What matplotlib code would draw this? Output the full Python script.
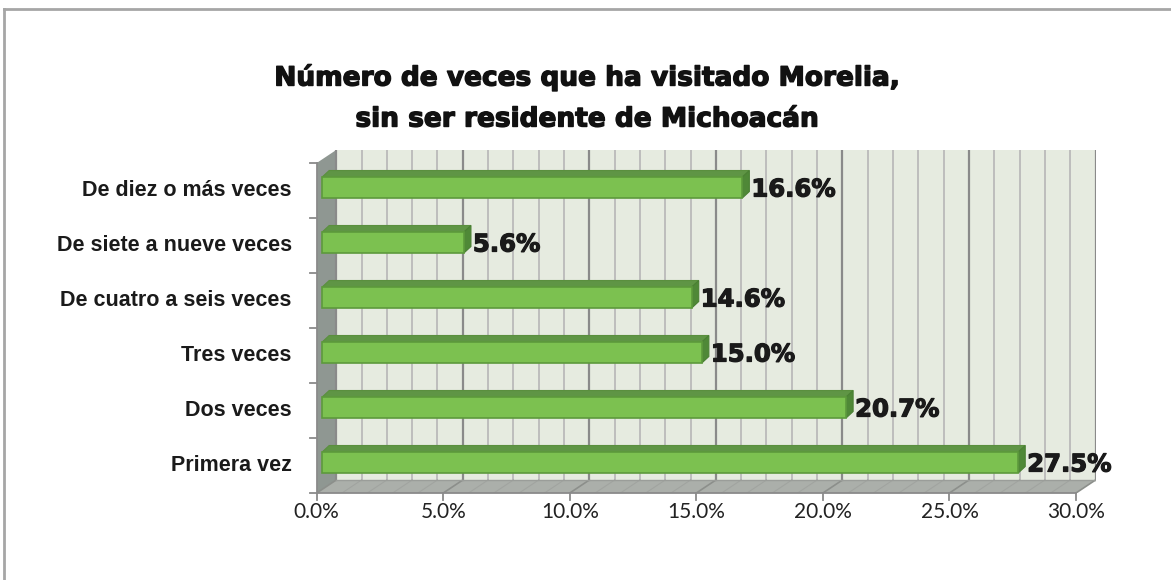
import matplotlib
matplotlib.use("Agg")
import matplotlib.pyplot as plt
import matplotlib.patheffects as pe
from matplotlib.patches import Polygon
from matplotlib.lines import Line2D

# data (bottom to top)
categories = ["Primera vez", "Dos veces", "Tres veces",
              "De cuatro a seis veces", "De siete a nueve veces",
              "De diez o más veces"]
values = [27.5, 20.7, 15.0, 14.6, 5.6, 16.6]
xticks = [0, 5, 10, 15, 20, 25, 30]
xmax = 30
title = "Número de veces que ha visitado Morelia,\nsin ser residente de Michoacán"

W, H = 1171, 580
fig = plt.figure(figsize=(W / 100, H / 100), dpi=100)

# pixel geometry of the pseudo 3D box
px0, px30 = 316.7, 1076.0       # front plane x of 0% and 30%
py0, py6 = 493.0, 163.0          # front plane y of bottom and top category
ppx = (px30 - px0) / xmax
ppy = (py0 - py6) / len(categories)
dx, dy = 19.5 / ppx, 13.0 / ppy  # wall depth in data units

ax = fig.add_axes([px0 / W, (H - py0) / H,
                   (xmax + dx) * ppx / W, (len(categories) + dy) * ppy / H])
ax.set_xlim(0, xmax + dx)
ax.set_ylim(0, len(categories) + dy)
ax.axis("off")

ntop = len(categories)
# walls
ax.add_patch(Polygon([(dx, dy), (xmax + dx, dy), (xmax + dx, ntop + dy), (dx, ntop + dy)],
                     closed=True, fc="#e6ebe0", ec="none", zorder=1))
ax.add_patch(Polygon([(0, 0), (dx, dy), (dx, ntop + dy), (0, ntop)],
                     closed=True, fc="#8f9792", ec="none", zorder=1))
ax.add_patch(Polygon([(0, 0), (xmax, 0), (xmax + dx, dy), (dx, dy)],
                     closed=True, fc="#abafaa", ec="none", zorder=1))

# gridlines
for g in range(xmax + 1):
    major = g % 5 == 0
    col = "#8a8a8a" if major else "#bdbdbd"
    lw = 1.6 if major else 1.4
    ax.plot([g + dx, g + dx], [dy, ntop + dy], color=col, lw=lw, zorder=2)
    ax.plot([g, g + dx], [0, dy], color="#8c8f8b" if major else "#a1a4a0",
            lw=1.2 if major else 0.8, zorder=2)
ax.plot([dx, xmax + dx], [dy, dy], color="#9a9d99", lw=1, zorder=2)

# axis lines and ticks
ax.plot([0, xmax], [0, 0], color="#8a8a8a", lw=1.3, zorder=3, clip_on=False)
ax.plot([0, 0], [0, ntop], color="#8a8a8a", lw=1.3, zorder=3, clip_on=False)
tlx = 7 / ppy
for t in xticks:
    ax.plot([t, t], [0, -tlx], color="#8a8a8a", lw=1.3, clip_on=False, zorder=3)
    ax.text(t, -19 / ppy, f"{t:.1f}%", ha="center", va="center",
            fontsize=15, family="Lato", color="#222222")
for i in range(ntop + 1):
    ax.plot([0, -7 / ppx], [i, i], color="#8a8a8a", lw=1.3, clip_on=False, zorder=3)
for i, c in enumerate(categories):
    ax.text(-25 / ppx, i + 0.5, c, ha="right", va="center", fontsize=15.5,
            fontweight="bold", family="Liberation Sans", color="#1a1a1a")

# bars
bx, by = 5.5 / ppx, 3.0 / ppy
bh = 21.0 / ppy
ddx, ddy = 7.0 / ppx, 6.5 / ppy
heavy = [pe.withStroke(linewidth=0.9, foreground="#1a1a1a")]
for i, v in enumerate(values):
    yc = i + 0.5 + by
    yb, yt = yc - bh / 2, yc + bh / 2
    ax.barh(yc, v, left=bx, height=bh, color="#7cc150", edgecolor="#5d9a3c",
            lw=1.2, zorder=5)
    ax.add_patch(Polygon([(bx, yt), (bx + v, yt), (bx + v + ddx, yt + ddy), (bx + ddx, yt + ddy)],
                         closed=True, fc="#5f9545", ec="#5a8f3e", lw=0.8, zorder=4))
    ax.add_patch(Polygon([(bx + v, yb), (bx + v, yt), (bx + v + ddx, yt + ddy), (bx + v + ddx, yb + ddy)],
                         closed=True, fc="#4f8837", ec="#4a8033", lw=0.8, zorder=4))
    ax.text(bx + v + ddx + 2 / ppx, yc - 2 / ppy, f"{v:.1f}%", ha="left", va="center",
            fontsize=17.5, fontweight="bold", color="#1a1a1a", zorder=6,
            path_effects=heavy)

# title
fig.text(587 / W, 1 - 98 / H, title, ha="center", va="center", fontsize=19,
         fontweight="bold", color="#111111", linespacing=1.75,
         path_effects=[pe.withStroke(linewidth=1.0, foreground="#111111")])

# outer frame (top and left edges visible)
fig.add_artist(Line2D([4 / W, 4 / W], [0, 1 - 9 / H], color="#a6a6a6", lw=2))
fig.add_artist(Line2D([4 / W, 1], [1 - 9 / H, 1 - 9 / H], color="#a6a6a6", lw=2))

fig.savefig("out.png", dpi=100)
